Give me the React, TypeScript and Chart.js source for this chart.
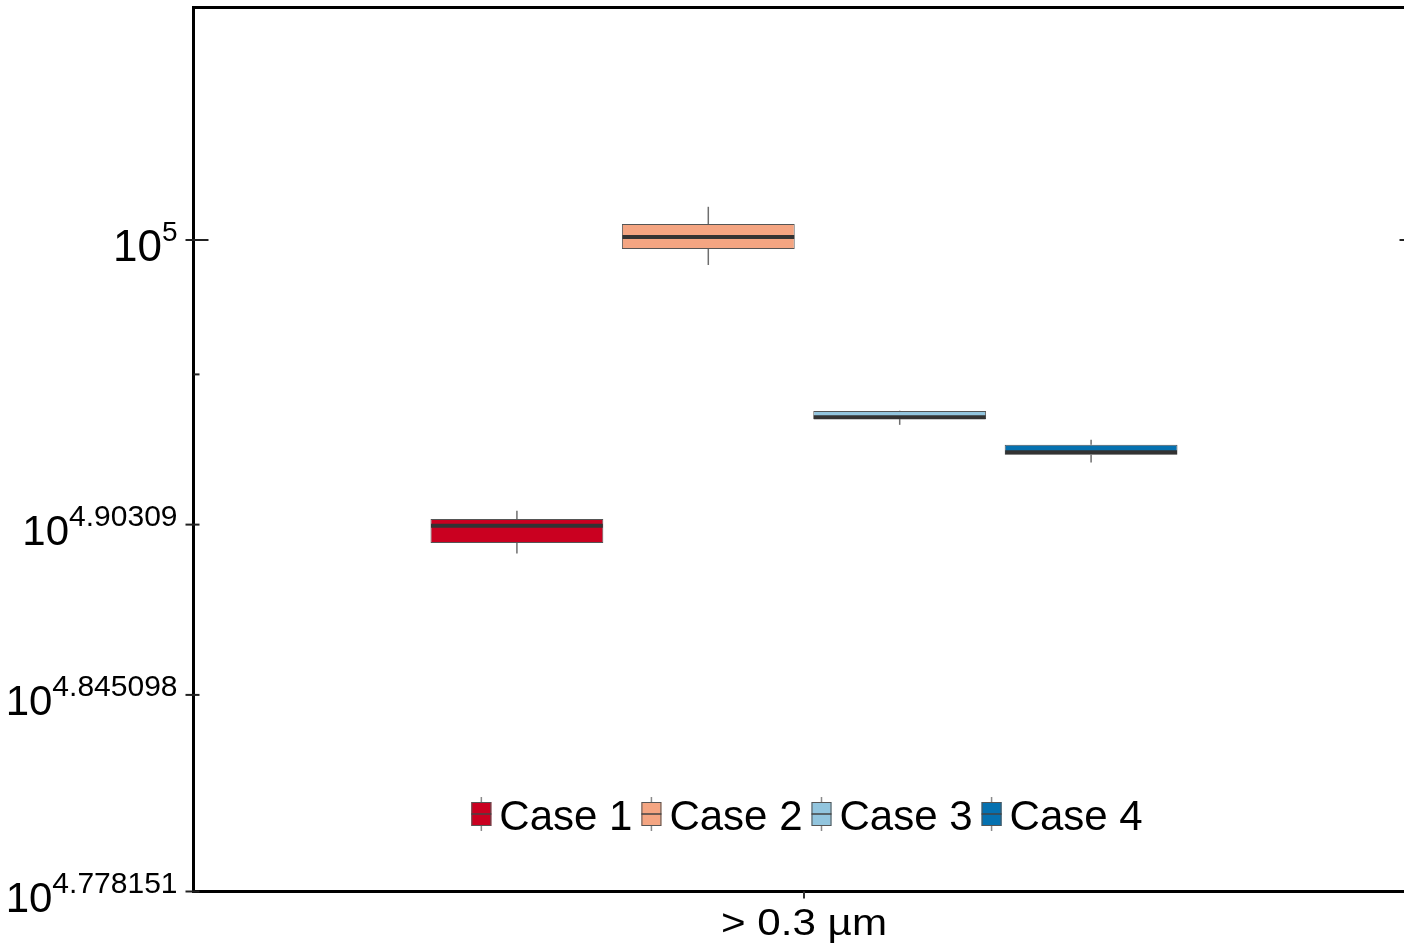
import React, { useEffect, useRef } from "react";
import { Chart, registerables } from "chart.js";

Chart.register(...registerables);

// ---- data ----
const categories = ["> 0.3 µm"];
const seriesNames = ["Case 1", "Case 2", "Case 3", "Case 4"];
const seriesColors = ["#CA0020", "#F4A582", "#92C5DE", "#0571B0"];
const whiskerLow = [78210, 98060, 86510, 83990];
const q1 = [78850, 99300, 86900, 84500];
const median = [79930, 100240, 87020, 84670];
const q3 = [80350, 101260, 87460, 85170];
const whiskerHigh = [80870, 102640, 87480, 85500];

const yMin = 60000;
const yMax = 120000;
const yLabeledTicks = [60000, 70000, 80000, 100000];
const yTickExponents = ["4.778151", "4.845098", "4.90309", "5"];
const yMajorTick = 100000;
const yMinorTicks = [90000];

const FONT = '"Liberation Sans", Arial, sans-serif';

function line(ctx: CanvasRenderingContext2D, x1: number, y1: number, x2: number, y2: number) {
  ctx.beginPath();
  ctx.moveTo(x1, y1);
  ctx.lineTo(x2, y2);
  ctx.stroke();
}

const boxPlugin = {
  id: "boxWhiskers",
  afterDatasetsDraw(chart: any) {
    const { ctx } = chart;
    const y = chart.scales.y;
    ctx.save();
    chart.data.datasets.forEach((_ds: any, i: number) => {
      const meta = chart.getDatasetMeta(i);
      const bar = meta.data[0];
      if (!bar) return;
      const cx = bar.x;
      const half = bar.width / 2;
      ctx.strokeStyle = "#6e6e6e";
      ctx.lineWidth = 1.5;
      line(ctx, cx, y.getPixelForValue(whiskerHigh[i]), cx, y.getPixelForValue(q3[i]));
      line(ctx, cx, y.getPixelForValue(q1[i]), cx, y.getPixelForValue(whiskerLow[i]));
      ctx.strokeStyle = "#333333";
      ctx.lineWidth = 4;
      const my = y.getPixelForValue(median[i]);
      line(ctx, cx - half + 0.5, my, cx + half - 0.5, my);
    });
    ctx.restore();
  },
};

const axesPlugin = {
  id: "axesFrame",
  afterDraw(chart: any) {
    const { ctx, chartArea: a } = chart;
    const y = chart.scales.y;
    const x = chart.scales.x;
    ctx.save();
    // frame
    ctx.strokeStyle = "#000";
    ctx.lineWidth = 3;
    ctx.strokeRect(a.left, a.top, a.right - a.left, a.bottom - a.top);

    // y ticks
    ctx.strokeStyle = "#222";
    ctx.lineWidth = 2;
    yLabeledTicks.forEach((v) => {
      const py = y.getPixelForValue(v);
      const inLen = v === yMajorTick ? 15 : 6;
      line(ctx, a.left - 8, py, a.left + inLen, py);
      line(ctx, a.right - inLen, py, a.right, py);
    });
    yMinorTicks.forEach((v) => {
      const py = y.getPixelForValue(v);
      line(ctx, a.left, py, a.left + 6, py);
      line(ctx, a.right - 6, py, a.right, py);
    });

    // y tick labels with superscripts
    ctx.fillStyle = "#000";
    ctx.textBaseline = "alphabetic";
    ctx.textAlign = "left";
    yLabeledTicks.forEach((v, i) => {
      const py = y.getPixelForValue(v);
      const major = v === yMajorTick;
      const baseSize = major ? 44 : 42;
      const supSize = major ? 28 : 30;
      const rightX = a.left - 16;
      ctx.font = `${supSize}px ${FONT}`;
      const supW = ctx.measureText(yTickExponents[i]).width;
      ctx.font = `${baseSize}px ${FONT}`;
      const baseW = ctx.measureText("10").width;
      ctx.fillText("10", rightX - supW - baseW, py + 20.5);
      ctx.font = `${supSize}px ${FONT}`;
      ctx.fillText(yTickExponents[i], rightX - supW, py + 1);
    });

    // x ticks and label
    categories.forEach((c, i) => {
      const px = x.getPixelForValue(i);
      ctx.strokeStyle = "#333";
      ctx.lineWidth = 2;
      line(ctx, px, a.bottom, px, a.bottom + 7);
      ctx.font = `37px ${FONT}`;
      ctx.textAlign = "center";
      ctx.fillStyle = "#000";
      const w = ctx.measureText(c).width;
      const sx = 166 / w;
      ctx.save();
      ctx.translate(px, a.bottom + 43);
      ctx.scale(sx, 1);
      ctx.fillText(c, 0, 0);
      ctx.restore();
    });

    // legend
    ctx.font = `42px ${FONT}`;
    ctx.textAlign = "left";
    const mW = 20;
    const mH = 24;
    const gap1 = 8;
    const gap2 = 9;
    const widths = seriesNames.map((n) => mW + gap1 + ctx.measureText(n).width);
    const total = widths.reduce((s, w) => s + w, 0) + gap2 * (seriesNames.length - 1);
    let lx = (a.left + a.right) / 2 + 3 - total / 2;
    const ly = 814;
    seriesNames.forEach((n, i) => {
      ctx.strokeStyle = "#8a8a8a";
      ctx.lineWidth = 1.5;
      line(ctx, lx + mW / 2, ly - 17, lx + mW / 2, ly + 17);
      ctx.fillStyle = seriesColors[i];
      ctx.fillRect(lx, ly - mH / 2, mW, mH);
      ctx.strokeStyle = "#555";
      ctx.lineWidth = 1;
      ctx.strokeRect(lx + 0.5, ly - mH / 2 + 0.5, mW - 1, mH - 1);
      ctx.strokeStyle = "#444";
      ctx.lineWidth = 1.5;
      line(ctx, lx, ly, lx + mW, ly);
      ctx.fillStyle = "#000";
      ctx.fillText(n, lx + mW + gap1, ly + 16);
      lx += widths[i] + gap2;
    });
    ctx.restore();
  },
};

export default function App() {
  const ref = useRef<HTMLCanvasElement>(null);
  useEffect(() => {
    if (!ref.current) return;
    const chart = new Chart(ref.current, {
      type: "bar",
      data: {
        labels: categories,
        datasets: seriesNames.map((name, i) => ({
          label: name,
          data: [[q1[i], q3[i]]] as any,
          backgroundColor: seriesColors[i],
          borderColor: "#555555",
          borderWidth: 1,
          borderSkipped: false,
          categoryPercentage: 0.627,
          barPercentage: 0.903,
        })),
      },
      options: {
        responsive: false,
        animation: false,
        devicePixelRatio: 1,
        layout: { padding: { top: 7.5, right: 5.5, left: 0, bottom: 0 } },
        plugins: { legend: { display: false }, tooltip: { enabled: false } },
        scales: {
          x: {
            type: "category",
            grid: { display: false },
            border: { display: false },
            ticks: { display: false },
            afterFit: (s: any) => {
              s.height = 54.5;
            },
          },
          y: {
            type: "logarithmic",
            min: yMin,
            max: yMax,
            grid: { display: false },
            border: { display: false },
            ticks: { display: false },
            afterFit: (s: any) => {
              s.width = 193.5;
            },
          },
        },
      },
      plugins: [boxPlugin, axesPlugin],
    });
    return () => chart.destroy();
  }, []);
  return (
    <div
      style={{
        position: "fixed",
        left: 0,
        top: 0,
        width: 1404,
        height: 946,
        overflow: "hidden",
        background: "#fff",
      }}
    >
      <canvas ref={ref} width={1420} height={946} style={{ display: "block" }} />
    </div>
  );
}
